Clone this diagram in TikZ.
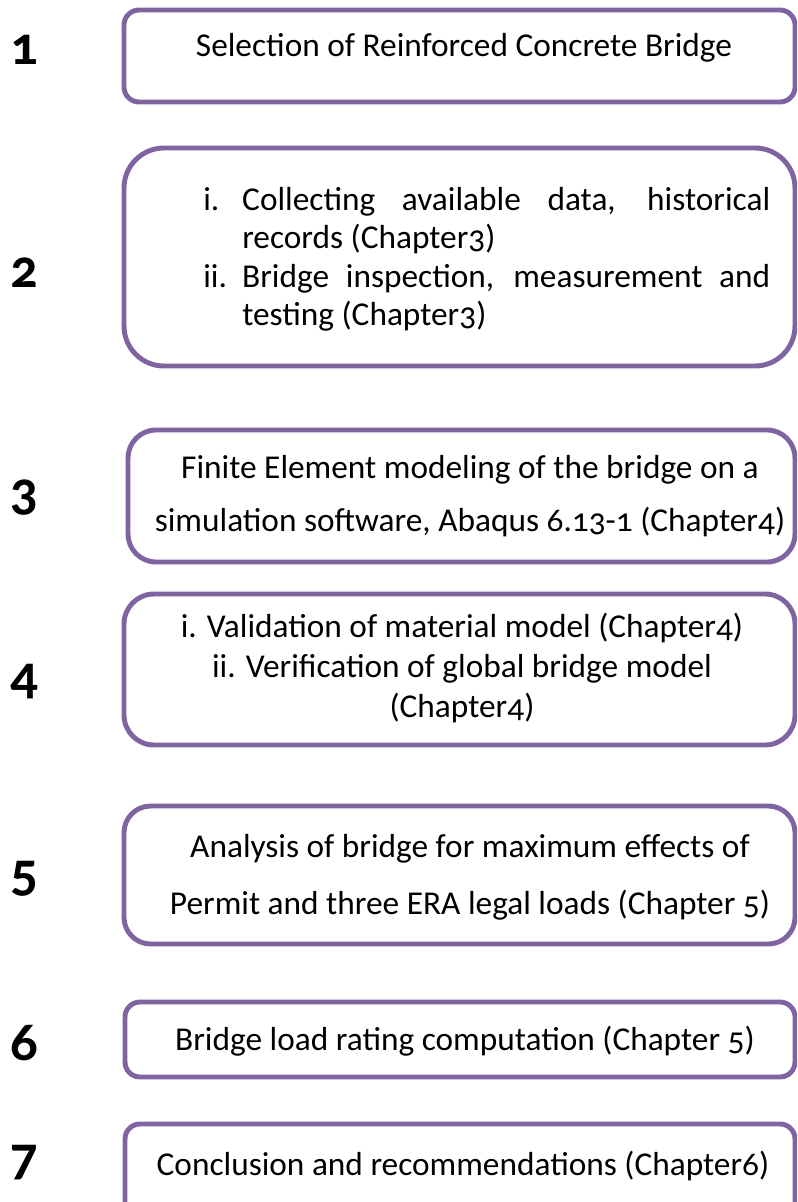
\documentclass[tikz,border=0pt]{standalone}
\usepackage{fontspec}
\setmainfont{Carlito}[Numbers=OldStyle]
\definecolor{framepurple}{HTML}{8064A2}
\newcommand\listitem[2]{\makebox[29.25pt][l]{#1}\parbox[t]{396pt}{\hyphenpenalty=10000\relax\exhyphenpenalty=10000\relax #2}}
\tikzset{
  stepframe/.style={draw=framepurple, line width=3.7pt},
  steptext/.style={inner sep=0pt, anchor=base, align=center, font=\fontsize{25}{30}\selectfont},
  itemtext/.style={inner sep=0pt, anchor=base west, font=\fontsize{25}{28.9}\selectfont},
  stepnum/.style={inner sep=0pt, anchor=base, font=\fontsize{41}{44}\selectfont\bfseries},
}
\begin{document}
\begin{tikzpicture}[x=0.75pt, y=-0.75pt]
			%%%%% START %%%%%
			\useasboundingbox (0, 0) rectangle (797, 1202);
			\clip (0, 0) rectangle (797, 1202);
			
			% frames
			\draw[stepframe, rounded corners=11.25pt] (124, 10) rectangle (795, 102);
			\draw[stepframe, rounded corners=30pt] (124, 148) rectangle (795, 366);
			\draw[stepframe, rounded corners=21pt] (128, 430) rectangle (795, 562);
			\draw[stepframe, rounded corners=22.5pt] (124, 594) rectangle (795, 745);
			\draw[stepframe, rounded corners=20pt] (124, 806) rectangle (795, 944);
			\draw[stepframe, rounded corners=11.25pt] (125, 1002) rectangle (795, 1077);
			\draw[stepframe, rounded corners=11.25pt] (125, 1124) rectangle (795, 1240);
			
			% step numbers
			\node[stepnum] (num1) at (24, 65) {1};
			\node[stepnum] (num2) at (24, 287) {2};
			\node[stepnum] (num3) at (24, 509) {3};
			\node[stepnum] (num4) at (24, 693) {4};
			\node[stepnum] (num5) at (24, 890) {5};
			\node[stepnum] (num6) at (24, 1060) {6};
			\node[stepnum] (num7) at (24, 1174) {7};
			
			% texts
			\node[steptext] (selection) at (464, 57) {Selection of Reinforced Concrete Bridge};
			
			\node[itemtext] (collecting) at (203, 210)
			      {\listitem{i.}{Collecting available data, historical records (Chapter3)}};
			\node[itemtext] (inspection) at (203, 287)
			      {\listitem{ii.}{Bridge inspection, measurement and testing (Chapter3)}};
			
			\node[steptext, font=\fontsize{25}{39.75}\selectfont] (femodel) at (470, 531)
			      {Finite Element modeling of the bridge on a\\simulation software, Abaqus 6.13-1 (Chapter4)};
			
			\node[steptext] (validation) at (462, 717)
			      {i. Validation of material model (Chapter4)\\ii. Verification of global bridge model\\(Chapter4)};
			
			\node[steptext, font=\fontsize{25}{42.75}\selectfont] (analysis) at (470, 914)
			      {Analysis of bridge for maximum effects of\\Permit and three ERA legal loads (Chapter 5)};
			
			\node[steptext] (rating) at (465, 1050) {Bridge load rating computation (Chapter 5)};
			
			\node[steptext] (conclusion) at (463, 1175) {Conclusion and recommendations (Chapter6)};
			
			%%%%% END %%%%%
\end{tikzpicture}
\end{document}
